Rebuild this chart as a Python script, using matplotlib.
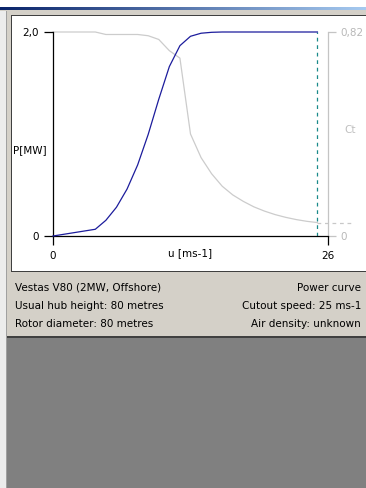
import numpy as np
import matplotlib
matplotlib.use("Agg")
import matplotlib.pyplot as plt
from matplotlib.patches import Rectangle

# wind speed [m/s] vs power [MW]
speed_p = [0, 4, 5, 6, 7, 8, 9, 10, 11, 12, 13, 14, 15, 16, 17, 18, 19, 20, 21, 22, 23, 24, 25]
power = [0, 0.066, 0.154, 0.282, 0.460, 0.696, 0.996, 1.341, 1.661, 1.866, 1.958, 1.988, 1.997,
         2.0, 2.0, 2.0, 2.0, 2.0, 2.0, 2.0, 2.0, 2.0, 2.0]

# wind speed [m/s] vs thrust coefficient
speed_ct = [0, 4, 5, 6, 7, 8, 9, 10, 11, 12, 13, 14, 15, 16, 17, 18, 19, 20, 21, 22, 23, 24, 25]
ct = [0.82, 0.82, 0.81, 0.81, 0.81, 0.81, 0.805, 0.79, 0.745, 0.715, 0.41, 0.315, 0.25, 0.20,
      0.165, 0.139, 0.117, 0.10, 0.086, 0.075, 0.066, 0.059, 0.054]

x_ticks = [0, 26]
x_tick_labels = ['0', '26']
p_ticks = [0, 2.0]
p_tick_labels = ['0', '2,0']
ct_ticks = [0, 0.82]
ct_tick_labels = ['0', '0,82']
cut_out = 25
info_left = ['Vestas V80 (2MW, Offshore)', 'Usual hub height: 80 metres', 'Rotor diameter: 80 metres']
info_right = ['Power curve', 'Cutout speed: 25 ms-1', 'Air density: unknown']

W, H = 366, 488
plt.rcParams['font.family'] = ['DejaVu Sans']
FS = 7.5


def fx(px):
    return px / W


def fy(py):
    return 1 - py / H


def box(fig, x0, y0, x1, y1, color, z=0):
    fig.add_artist(Rectangle((fx(x0), fy(y1)), (x1 - x0) / W, (y1 - y0) / H,
                             transform=fig.transFigure, facecolor=color,
                             edgecolor='none', zorder=z))


fig = plt.figure(figsize=(W / 100, H / 100), dpi=100)
fig.patch.set_facecolor('#d4d0c8')

# window chrome
box(fig, 0, 0, W, 7, 'white')
grad = fig.add_axes([0, fy(10.5), 1, 3.5 / H])
grad.imshow(np.linspace(0, 1, 256)[None, :], aspect='auto', cmap=matplotlib.colors.LinearSegmentedColormap.from_list('t', ['#0a246a', '#a6caf0']))
grad.axis('off')
box(fig, 0, 10.5, 6, H, '#ececec')
box(fig, 6, 10.5, 7, H, '#a0a0a0')
box(fig, 11, 15, W, 272, '#404040')
box(fig, 12, 16, W, 271, 'white')
box(fig, 7, 336, W, 338, '#404040')
box(fig, 7, 338, W, H, '#808080')

# power axes
ax = fig.add_axes([fx(53), fy(236), 275 / W, 204 / H])
ax.patch.set_alpha(0)
ax.set_xlim(0, 26)
ax.set_ylim(0, 2.0)
for s in ['top', 'right']:
    ax.spines[s].set_visible(False)
for s in ['left', 'bottom']:
    ax.spines[s].set_linewidth(0.9)
    ax.spines[s].set_color('black')
ax.set_xticks(x_ticks, x_tick_labels)
ax.set_yticks(p_ticks, p_tick_labels)
ax.tick_params(direction='out', length=6.5, width=0.9, labelsize=FS, colors='black', pad=4)
ax.plot(speed_p, power, color='#1c1c9c', lw=0.9, zorder=3, clip_on=False)
ax.plot([cut_out, cut_out], [0, max(power)], color='#1a8a8a', lw=0.9,
        dashes=(3, 3), zorder=2, clip_on=False)
ax.text(0.5, -17 / 204, 'u [ms-1]', transform=ax.transAxes, ha='center', va='center', fontsize=FS)

# thrust coefficient axes
ax2 = ax.twinx()
ax2.set_ylim(0, 0.82)
for s in ['top', 'left', 'bottom']:
    ax2.spines[s].set_visible(False)
ax2.spines['right'].set_color('#c4c4c4')
ax2.spines['right'].set_linewidth(0.9)
ax2.set_yticks(ct_ticks, ct_tick_labels)
ax2.tick_params(direction='out', length=6, width=0.9, labelsize=FS, colors='#c4c4c4',
                labelcolor='#b8b8b8', pad=3)
ax2.plot(speed_ct, ct, color='#cccccc', lw=0.9, zorder=2, clip_on=False)
ax2.plot([cut_out, 28.5], [ct[-1], ct[-1]], color='#c8c8c8', lw=0.9,
         dashes=(3, 3), clip_on=False)
ax.set_zorder(ax2.get_zorder() + 1)

fig.text(fx(13), fy(150), 'P[MW]', fontsize=FS, ha='left', va='center')
fig.text(fx(350), fy(130), 'Ct', fontsize=FS, ha='center', va='center', color='#c0c0c0')

# info lines
for i, (l, r) in enumerate(zip(info_left, info_right)):
    yy = fy(288 + 18 * i)
    fig.text(fx(15), yy, l, fontsize=FS, ha='left', va='center')
    fig.text(fx(361), yy, r, fontsize=FS, ha='right', va='center')

fig.savefig('out.png', dpi=100)
